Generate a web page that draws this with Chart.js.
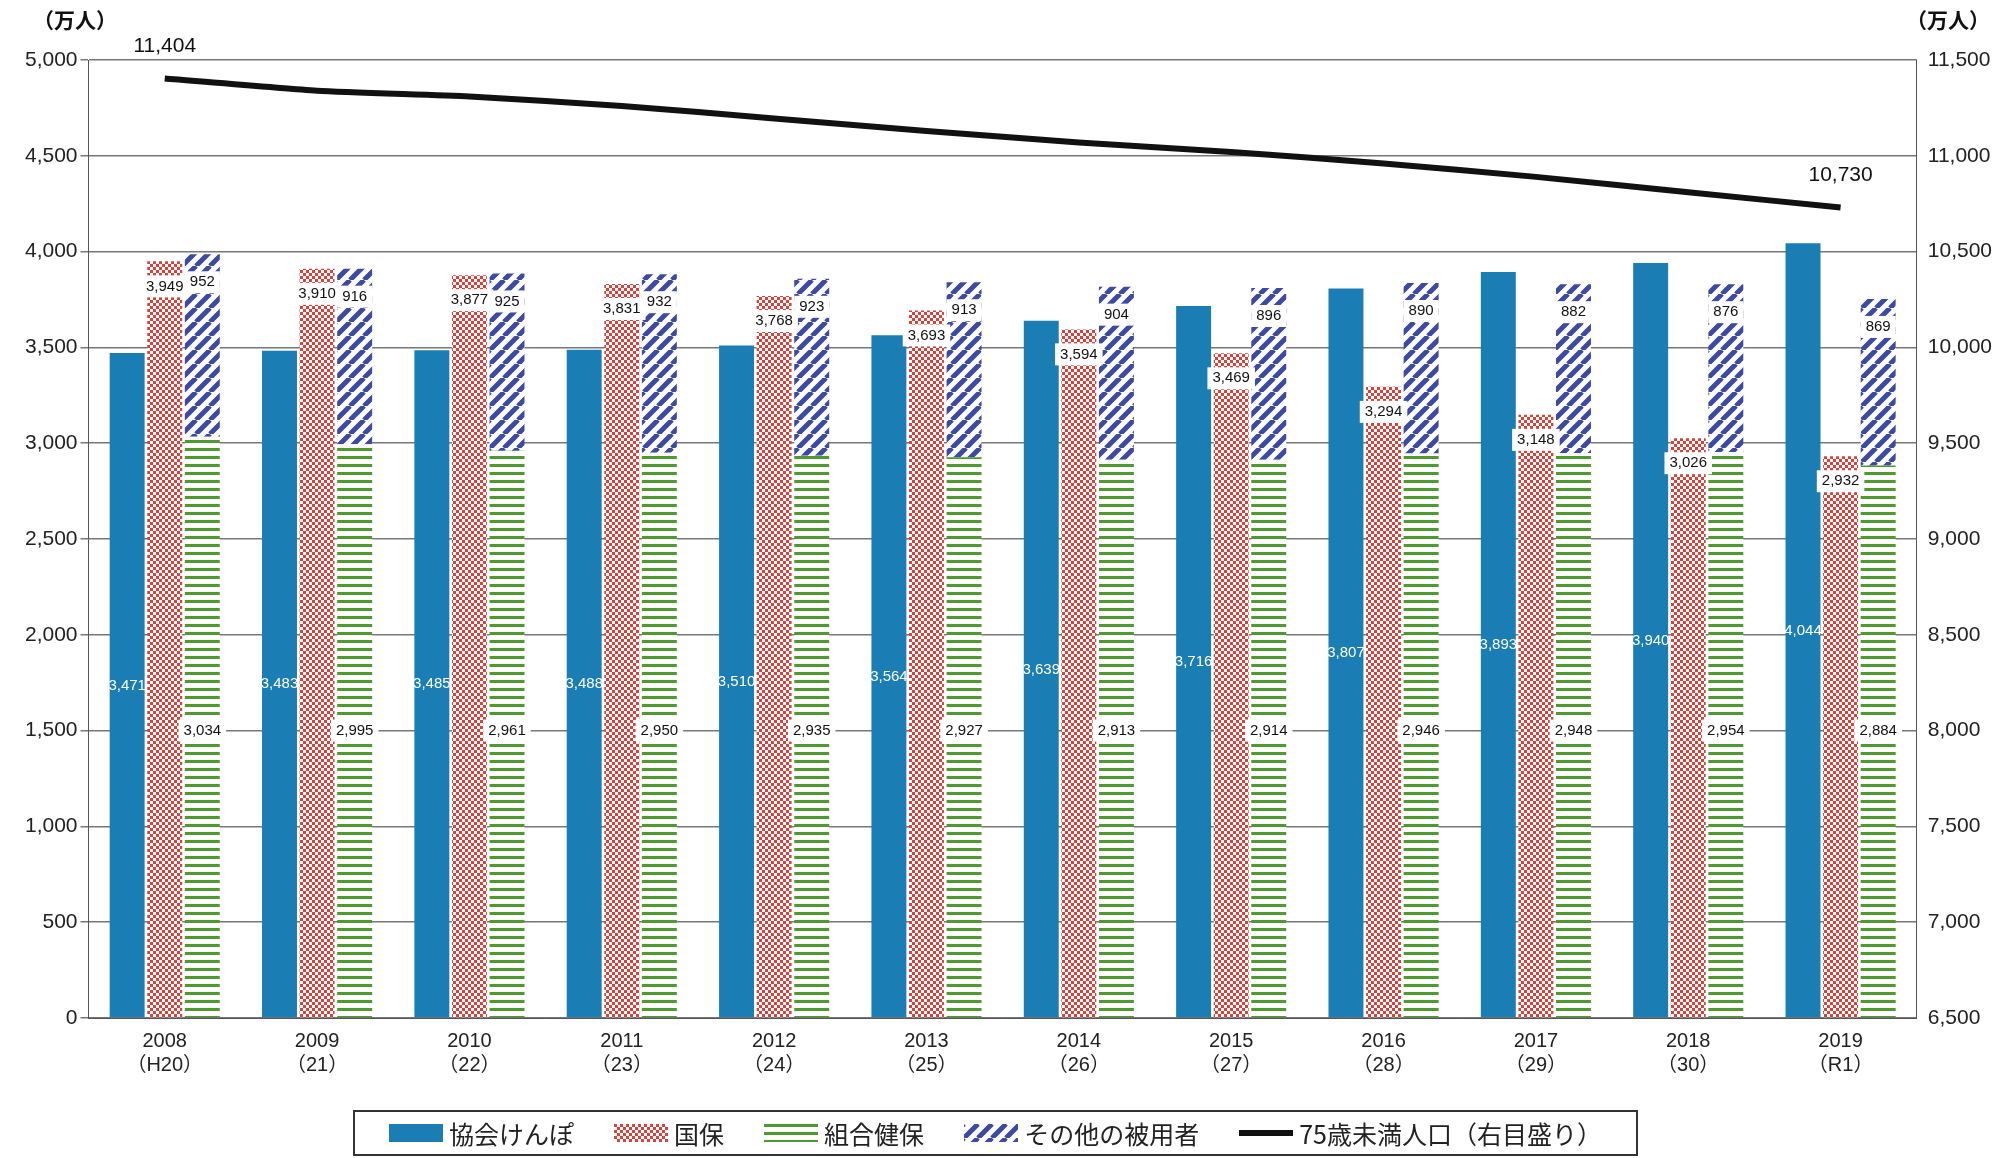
<!DOCTYPE html>
<html><head><meta charset="utf-8">
<script src="https://cdn.jsdelivr.net/npm/chart.js@4"></script>
<style>
body{margin:0;background:#fff;font-family:"Noto Sans CJK JP","Noto Sans",sans-serif}
#wrap{position:relative;width:2015px;height:1158px}
#legend{position:absolute;left:353px;top:1110px;width:1285px;height:46px;border:2px solid #333;box-sizing:border-box;display:flex;align-items:center;justify-content:center;gap:40px;font-size:25px;color:#222}
#legend span{display:flex;align-items:center;gap:6px}
#legend canvas{display:block}
</style></head>
<body><div id="wrap"><canvas id="c" width="2015" height="1158"></canvas>
<div id="legend"></div></div>
<script>
const years = ["2008","2009","2010","2011","2012","2013","2014","2015","2016","2017","2018","2019"];
const eras = ["（H20）","（21）","（22）","（23）","（24）","（25）","（26）","（27）","（28）","（29）","（30）","（R1）"];
const kyokai = [3471,3483,3485,3488,3510,3564,3639,3716,3807,3893,3940,4044];
const kokuho = [3949,3910,3877,3831,3768,3693,3594,3469,3294,3148,3026,2932];
const kumiai = [3034,2995,2961,2950,2935,2927,2913,2914,2946,2948,2954,2884];
const sonota = [952,916,925,932,923,913,904,896,890,882,876,869];
const under75 = [11404,11340,11310,11260,11195,11130,11070,11020,10960,10890,10810,10730];

function pat(kind){
  const c=document.createElement("canvas"),x=c.getContext("2d");
  if(kind==="red"){c.width=c.height=6;x.fillStyle="#fff";x.fillRect(0,0,6,6);x.fillStyle="#d9413a";x.fillRect(0,0,3,3);x.fillRect(3,3,3,3);}
  if(kind==="green"){c.width=c.height=8;x.fillStyle="#fff";x.fillRect(0,0,8,8);x.fillStyle="#4e9a2f";x.fillRect(0,0,8,3);}
  if(kind==="purple"){c.width=c.height=14;x.fillStyle="#fff";x.fillRect(0,0,14,14);x.strokeStyle="#3d4aa0";x.lineWidth=5;
    x.beginPath();for(let i=-14;i<=28;i+=14){x.moveTo(i,14);x.lineTo(i+14,0);}x.stroke();}
  return document.createElement("canvas").getContext("2d").createPattern(c,"repeat");
}
const blue="#1a7db3", red=pat("red"), green=pat("green"), purple=pat("purple");

const labelPlugin={id:"labels",afterDatasetsDraw(chart){
  const ctx=chart.ctx, y=chart.scales.y;
  ctx.save();ctx.font="15px 'Liberation Sans',Arial";ctx.textAlign="center";ctx.textBaseline="middle";
  const box=(t,x,yy)=>{const w=ctx.measureText(t).width+10;ctx.fillStyle="#fff";ctx.fillRect(x-w/2,yy-11,w,22);ctx.fillStyle="#111";ctx.fillText(t,x,yy);};
  const fmt=v=>v.toLocaleString("en-US");
  chart.getDatasetMeta(0).data.forEach((b,i)=>{ctx.fillStyle="#fff";ctx.fillText(fmt(kyokai[i]),b.x,y.getPixelForValue(kyokai[i]/2));});
  chart.getDatasetMeta(1).data.forEach((b,i)=>box(fmt(kokuho[i]),b.x,b.y+25));
  chart.getDatasetMeta(2).data.forEach((b,i)=>box(fmt(kumiai[i]),b.x,y.getPixelForValue(1500)));
  chart.getDatasetMeta(3).data.forEach((b,i)=>box(fmt(sonota[i]),b.x,b.y+28));
  const l=chart.getDatasetMeta(4).data;ctx.font="21px 'Liberation Sans',Arial";ctx.fillStyle="#111";
  ctx.fillText(fmt(under75[0]),l[0].x,l[0].y-32);ctx.fillText(fmt(under75[11]),l[11].x,l[11].y-32);
  ctx.font="bold 21px 'Noto Sans CJK JP'";ctx.fillText("（万人）",75,20);ctx.fillText("（万人）",1948,20);
  ctx.restore();}};

new Chart(document.getElementById("c"),{
  data:{labels:years.map((y,i)=>[y,eras[i]]),datasets:[
    {type:"bar",label:"協会けんぽ",data:kyokai,backgroundColor:blue,stack:"a"},
    {type:"bar",label:"国保",data:kokuho,backgroundColor:red,stack:"b"},
    {type:"bar",label:"組合健保",data:kumiai,backgroundColor:green,stack:"c"},
    {type:"bar",label:"その他の被用者",data:sonota,backgroundColor:purple,stack:"c"},
    {type:"line",label:"75歳未満人口（右目盛り）",data:under75,yAxisID:"y2",borderColor:"#111",borderWidth:6,pointRadius:0,tension:0.2,order:-1}
  ]},
  options:{responsive:false,animation:false,
    layout:{padding:{top:60,bottom:78,left:22,right:20}},
    datasets:{bar:{categoryPercentage:0.74,barPercentage:0.93}},
    plugins:{legend:{display:false},tooltip:{enabled:false}},
    scales:{
      x:{stacked:true,grid:{display:false},border:{color:"#555"},ticks:{color:"#222",font:{size:20,family:"'Liberation Sans','Noto Sans CJK JP'"}}},
      y:{stacked:true,min:0,max:5000,ticks:{stepSize:500,color:"#222",font:{size:21,family:"'Liberation Sans'"}},grid:{color:"#777",lineWidth:1.5},border:{color:"#555"}},
      y2:{position:"right",min:6500,max:11500,ticks:{stepSize:500,color:"#222",font:{size:21,family:"'Liberation Sans'"}},grid:{display:false},border:{color:"#555"}}
    }},
  plugins:[labelPlugin]
});

const lg=document.getElementById("legend");
[["協会けんぽ",blue],["国保",red],["組合健保",green],["その他の被用者",purple],["75歳未満人口（右目盛り）",null]].forEach(([t,f])=>{
  const s=document.createElement("span"),c=document.createElement("canvas");c.width=54;c.height=18;const x=c.getContext("2d");
  if(f){x.fillStyle=f;x.fillRect(0,0,54,18);}else{x.fillStyle="#111";x.fillRect(0,6,54,6);}
  s.appendChild(c);s.appendChild(document.createTextNode(t));lg.appendChild(s);});
</script></body></html>
